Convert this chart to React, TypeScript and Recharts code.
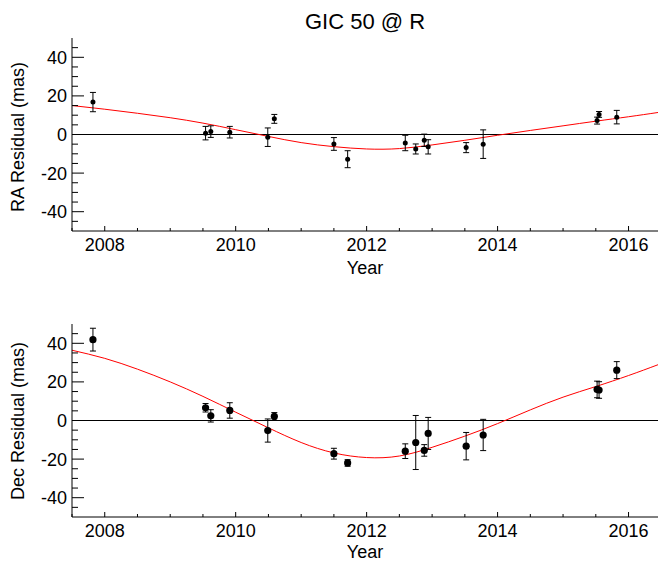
import React from 'react';
import {
  ComposedChart,
  Scatter,
  ErrorBar,
  Line,
  XAxis,
  YAxis,
  ReferenceLine,
} from 'recharts';

// epochs of the astrometry (decimal year)
const epochs = [
  2007.82, 2009.54, 2009.62, 2009.91, 2010.49, 2010.59, 2011.5, 2011.71, 2012.59,
  2012.75, 2012.88, 2012.94, 2013.52, 2013.78, 2015.52, 2015.55, 2015.82,
];

// RA residuals and 1-sigma errors (mas)
const raResid = [16.8, 0.7, 1.5, 1.2, -1.4, 8.1, -4.9, -12.8, -4.4, -7.5, -3.0, -6.4, -6.8, -5.0, 7.2, 10.4, 9.0];
const raErr = [5.0, 3.5, 3.0, 3.0, 4.8, 2.3, 3.3, 4.4, 4.0, 2.6, 3.2, 3.7, 2.6, 7.4, 1.8, 1.5, 3.5];

// Dec residuals and 1-sigma errors (mas)
const decResid = [41.9, 6.6, 2.4, 5.2, -5.2, 2.1, -17.2, -22.0, -15.9, -11.4, -15.5, -6.7, -13.3, -7.5, 16.1, 15.8, 26.1];
const decErr = [5.9, 2.2, 3.2, 4.0, 6.0, 2.0, 2.8, 1.7, 3.8, 14.0, 3.0, 8.3, 7.1, 8.1, 4.3, 4.3, 4.4];

// parallax fit sampled along the time axis
const fitYears = [
  2007.5, 2008, 2008.5, 2009, 2009.5, 2010, 2010.5, 2011, 2011.5, 2012,
  2012.5, 2013, 2013.5, 2014, 2014.5, 2015, 2015.5, 2016, 2016.45,
];
const raFit = [15.0, 13.1, 11.0, 8.7, 5.9, 2.5, -1.0, -4.2, -6.3, -7.5, -7.3, -5.4, -3.0, -0.4, 2.1, 4.5, 6.9, 9.2, 11.4];
const decFit = [36.4, 32.2, 26.6, 20.0, 12.5, 4.3, -3.8, -11.4, -16.8, -19.2, -18.4, -13.9, -8.1, -1.6, 5.5, 12.1, 17.6, 23.3, 28.9];

const yearTicks = [2007.5, 2008, 2008.5, 2009, 2009.5, 2010, 2010.5, 2011, 2011.5, 2012, 2012.5, 2013, 2013.5, 2014, 2014.5, 2015, 2015.5, 2016];
const yearLabels = [2008, 2010, 2012, 2014, 2016];
const residTicks = [-45, -40, -35, -30, -25, -20, -15, -10, -5, 0, 5, 10, 15, 20, 25, 30, 35, 40, 45];
const residLabels = [-40, -20, 0, 20, 40];

const FONT = '"Liberation Sans", Arial, Helvetica, sans-serif';
const W = 659;
const H = 280;

const BottomTick = (props: any) => {
  const { x, y, payload } = props;
  const major = yearLabels.includes(payload.value);
  return (
    <g>
      <line x1={x} y1={y} x2={x} y2={y - (major ? 5 : 3)} stroke="#000" />
      {major && (
        <text x={x} y={y + 20} textAnchor="middle" fontSize={18} fontFamily={FONT} fill="#000">
          {payload.value}
        </text>
      )}
    </g>
  );
};

const TopTick = (props: any) => {
  const { x, y, payload } = props;
  const major = yearLabels.includes(payload.value);
  return <line x1={x} y1={y} x2={x} y2={y + (major ? 5 : 3)} stroke="#000" />;
};

const LeftTick = (props: any) => {
  const { x, y, payload } = props;
  const major = residLabels.includes(payload.value);
  return (
    <g>
      <line x1={x} y1={y} x2={x + (major ? 12 : 6)} y2={y} stroke="#000" />
      {major && (
        <text x={x - 5} y={y + 6.5} textAnchor="end" fontSize={18} fontFamily={FONT} fill="#000">
          {payload.value}
        </text>
      )}
    </g>
  );
};

const RightTick = (props: any) => {
  const { x, y, payload } = props;
  const major = residLabels.includes(payload.value);
  return <line x1={x} y1={y} x2={x - (major ? 12 : 6)} y2={y} stroke="#000" />;
};

interface PanelProps {
  values: number[];
  errors: number[];
  fit: number[];
  dotRadius: number;
}

const ResidualPanel = ({ values, errors, fit, dotRadius }: PanelProps) => {
  const points = epochs.map((year, i) => ({ year, value: values[i], err: errors[i] }));
  const curve = fitYears.map((year, i) => ({ year, value: fit[i] }));

  return (
    <ComposedChart width={W} height={H} margin={{ top: 38, right: 1, bottom: 0, left: 0 }}>
      <XAxis
        dataKey="year"
        type="number"
        domain={[2007.5, 2016.45]}
        allowDataOverflow
        ticks={yearTicks}
        interval={0}
        height={49}
        tickSize={0}
        tickMargin={0}
        tickLine={false}
        tick={<BottomTick />}
        stroke="#000"
      />
      <XAxis
        xAxisId="top"
        orientation="top"
        type="number"
        domain={[2007.5, 2016.45]}
        allowDataOverflow
        ticks={yearTicks}
        interval={0}
        height={0}
        tickSize={0}
        tickMargin={0}
        tickLine={false}
        tick={<TopTick />}
        stroke="#000"
      />
      <YAxis
        type="number"
        domain={[-50, 50]}
        allowDataOverflow
        ticks={residTicks}
        interval={0}
        width={72}
        tickSize={0}
        tickMargin={0}
        tickLine={false}
        tick={<LeftTick />}
        stroke="#000"
      />
      <YAxis
        yAxisId="right"
        orientation="right"
        type="number"
        domain={[-50, 50]}
        allowDataOverflow
        ticks={residTicks}
        interval={0}
        width={0}
        tickSize={0}
        tickMargin={0}
        tickLine={false}
        tick={<RightTick />}
        stroke="#000"
      />
      <ReferenceLine y={0} stroke="#000" strokeWidth={1} />
      <Line
        data={curve}
        dataKey="value"
        type="natural"
        stroke="#ff0000"
        strokeWidth={1}
        dot={false}
        activeDot={false}
        isAnimationActive={false}
      />
      <Scatter
        data={points}
        dataKey="value"
        isAnimationActive={false}
        shape={(p: any) => <circle cx={p.cx} cy={p.cy} r={dotRadius} fill="#000" />}
      >
        <ErrorBar dataKey="err" direction="y" width={3} stroke="#000" strokeWidth={1} />
      </Scatter>
    </ComposedChart>
  );
};

export default function App() {
  return (
    <div style={{ position: 'absolute', left: 0, top: 0, width: W, height: 562, background: '#fff' }}>
      <svg width={W} height={562} style={{ position: 'absolute', left: 0, top: 0 }}>
        <text x={365} y={29} textAnchor="middle" fontSize={22} fontFamily={FONT} fill="#000">
          GIC 50 @ R
        </text>
        <text x={365} y={274} textAnchor="middle" fontSize={18} fontFamily={FONT} fill="#000">
          Year
        </text>
        <text x={365} y={558} textAnchor="middle" fontSize={18} fontFamily={FONT} fill="#000">
          Year
        </text>
        <text transform="translate(24,137) rotate(-90)" textAnchor="middle" fontSize={18} fontFamily={FONT} fill="#000">
          RA Residual (mas)
        </text>
        <text transform="translate(24,421) rotate(-90)" textAnchor="middle" fontSize={18} fontFamily={FONT} fill="#000">
          Dec Residual (mas)
        </text>
      </svg>
      <div style={{ position: 'absolute', left: 0, top: 0 }}>
        <ResidualPanel values={raResid} errors={raErr} fit={raFit} dotRadius={2.5} />
      </div>
      <div style={{ position: 'absolute', left: 0, top: 286 }}>
        <ResidualPanel values={decResid} errors={decErr} fit={decFit} dotRadius={3.6} />
      </div>
    </div>
  );
}
